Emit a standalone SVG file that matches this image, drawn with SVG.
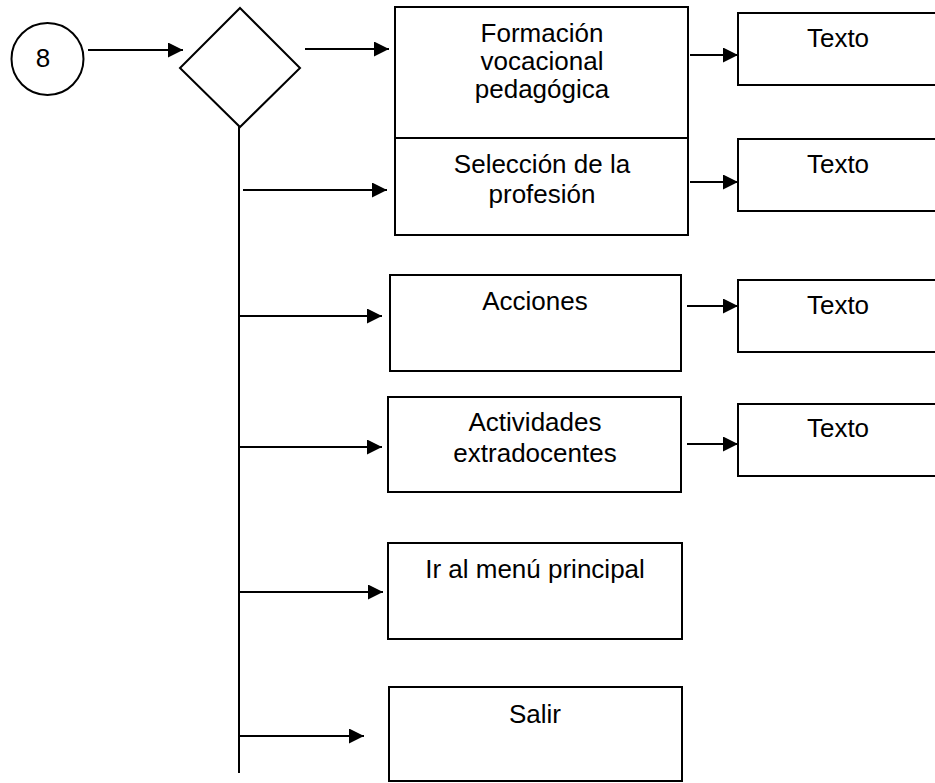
<svg xmlns="http://www.w3.org/2000/svg" width="935" height="783" viewBox="0 0 935 783">
<style>
.shape{fill:#fff;stroke:#000;stroke-width:2}
.t{font-family:"Liberation Sans",Arial,sans-serif;font-size:26px;fill:#000;text-anchor:middle}
.c line{stroke:#000;stroke-width:2}
</style>
<defs>
<marker id="ah" markerUnits="userSpaceOnUse" markerWidth="16" markerHeight="16" refX="15" refY="7.5" orient="auto">
<path d="M0,0 L15,7.5 L0,15 Z" fill="#000"/>
</marker>
</defs>
<rect width="935" height="783" fill="#fff"/>
<g id="connectors" class="c">
<line x1="88" y1="50" x2="183" y2="50" marker-end="url(#ah)"/>
<line x1="239" y1="100" x2="239" y2="773"/>
<line x1="305" y1="49" x2="389" y2="49" marker-end="url(#ah)"/>
<line x1="243" y1="190" x2="387" y2="190" marker-end="url(#ah)"/>
<line x1="239" y1="316" x2="382" y2="316" marker-end="url(#ah)"/>
<line x1="239" y1="447" x2="382" y2="447" marker-end="url(#ah)"/>
<line x1="239" y1="592" x2="383" y2="592" marker-end="url(#ah)"/>
<line x1="239" y1="736" x2="364" y2="736" marker-end="url(#ah)"/>
<line x1="690" y1="55" x2="738" y2="55" marker-end="url(#ah)"/>
<line x1="690" y1="182" x2="738" y2="182" marker-end="url(#ah)"/>
<line x1="687" y1="306" x2="738" y2="306" marker-end="url(#ah)"/>
<line x1="687" y1="444" x2="738" y2="444" marker-end="url(#ah)"/>
</g>
<g id="n8">
<circle class="shape" cx="47.5" cy="59" r="36"/>
<text class="t" x="43" y="67">8</text>
</g>
<g id="decision">
<polygon class="shape" points="240,8 300,68 240,127 180,68"/>
</g>
<g id="formacion">
<rect class="shape" x="395" y="7" width="293" height="131"/>
<text class="t" x="542" y="42">Formación</text>
<text class="t" x="542" y="70">vocacional</text>
<text class="t" x="542" y="98">pedagógica</text>
</g>
<g id="seleccion">
<rect class="shape" x="395" y="138" width="293" height="97"/>
<text class="t" x="542" y="173">Selección de la</text>
<text class="t" x="542" y="203">profesión</text>
</g>
<g id="acciones">
<rect class="shape" x="390" y="275" width="291" height="96"/>
<text class="t" x="535" y="310">Acciones</text>
</g>
<g id="actividades">
<rect class="shape" x="388" y="397" width="293" height="95"/>
<text class="t" x="535" y="431">Actividades</text>
<text class="t" x="535" y="462">extradocentes</text>
</g>
<g id="menu">
<rect class="shape" x="388" y="543" width="294" height="96"/>
<text class="t" x="535" y="578">Ir al menú principal</text>
</g>
<g id="salir">
<rect class="shape" x="389" y="687" width="293" height="94"/>
<text class="t" x="535" y="723">Salir</text>
</g>
<g id="texto1">
<rect class="shape" x="738" y="13" width="210" height="72"/>
<text class="t" x="838" y="47">Texto</text>
</g>
<g id="texto2">
<rect class="shape" x="738" y="139" width="210" height="72"/>
<text class="t" x="838" y="173">Texto</text>
</g>
<g id="texto3">
<rect class="shape" x="738" y="280" width="210" height="72"/>
<text class="t" x="838" y="314">Texto</text>
</g>
<g id="texto4">
<rect class="shape" x="738" y="404" width="210" height="72"/>
<text class="t" x="838" y="437">Texto</text>
</g>
</svg>
